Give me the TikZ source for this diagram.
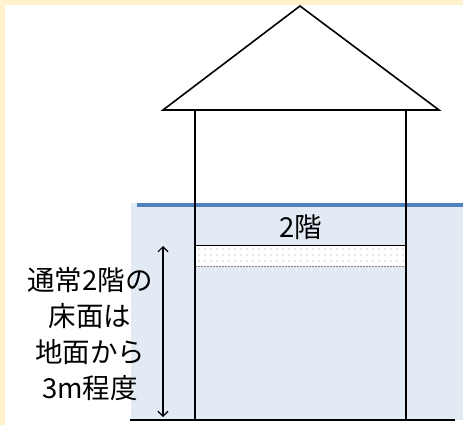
\documentclass[tikz,border=0pt]{standalone}
\usepackage{fontspec}
\newfontfamily\jpfont{Noto Sans CJK JP}
\usetikzlibrary{arrows.meta,patterns.meta}

\definecolor{cream}{HTML}{FFF2CC}
\definecolor{floodblue}{HTML}{E2EAF4}
\definecolor{waterline}{HTML}{4F81BD}

\tikzset{
  wall/.style={line width=1.6pt},
  label/.style={font=\jpfont\fontsize{27.5}{36}\selectfont, inner sep=0pt}
}

\begin{document}
\begin{tikzpicture}[x=1pt,y=-1pt]
\useasboundingbox (0,0) rectangle (463,425);

% page frame
\fill[cream] (0,0) rectangle (463,425);
\fill[white] (5,5) rectangle (463,425);

% flood water
\fill[floodblue] (131,203) rectangle (463,420);
\draw[waterline, line width=4pt] (137,205) -- (463,205);

% second floor slab
\fill[white] (195,245) rectangle (406,266);
\fill[pattern={Dots[distance=6pt, radius=0.7pt, xshift=1pt, yshift=2pt]}, pattern color=gray!80] (195,245) rectangle (406,266);
\draw[line width=1pt] (195,245) -- (406,245);
\draw[gray, line width=0.8pt, dash pattern=on 2pt off 1pt] (195,266) -- (406,266);

% house
\draw[wall] (195,110) -- (195,420);
\draw[wall] (406,110) -- (406,420);
\filldraw[fill=white, wall, line join=miter] (163,110) -- (300,6) -- (439,110) -- cycle;

% ground
\draw[line width=2.4pt] (130,420) -- (455,420);

% height mark
\coordinate (dimtop) at (163,246);
\coordinate (dimbot) at (163,417);
\draw[line width=1.1pt, {Straight Barb[length=5pt,width=10pt]}-{Straight Barb[length=5pt,width=10pt]}] (dimtop) -- (dimbot);

\node[label] (floortwo) at (301,227) {2階};
\node[label, align=center] (note) at (90,334) {通常2階の\\床面は\\地面から\\3m程度};
\end{tikzpicture}
\end{document}
